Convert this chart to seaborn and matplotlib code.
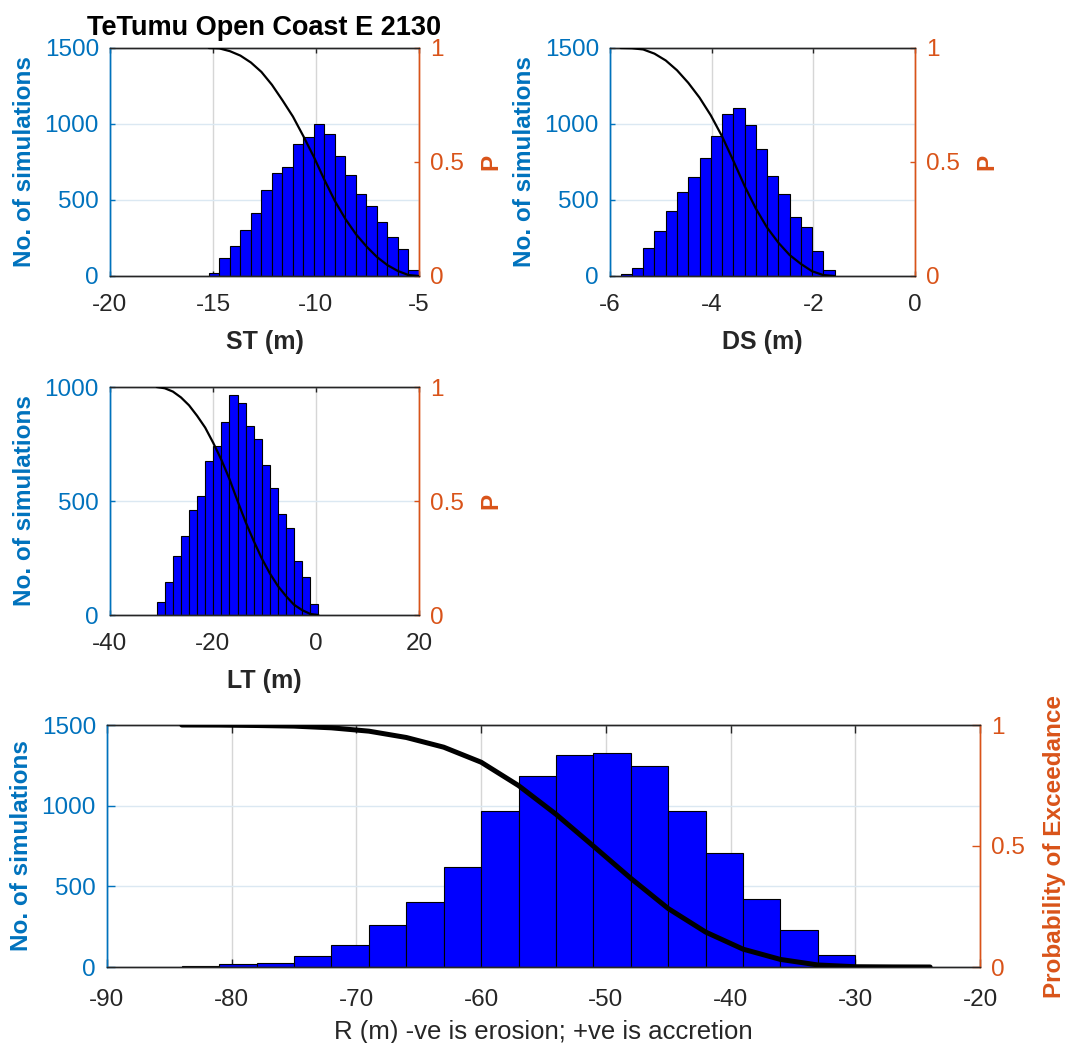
import numpy as np
import pandas as pd
import matplotlib
matplotlib.use("Agg")
import matplotlib.pyplot as plt
import seaborn as sns

sns.set_style("white")
plt.rcParams["font.family"] = ["Liberation Sans", "DejaVu Sans"]
plt.rcParams["axes.unicode_minus"] = False

# ---------------- data ----------------
title = "TeTumu Open Coast E 2130"

# ST histogram: first / last bin edge and counts per bin
st_range = (-15.2, -5.0)
st_counts = [18, 121, 195, 303, 413, 564, 679, 716, 867, 913,
             1001, 931, 788, 665, 538, 463, 358, 257, 176, 42]

# DS histogram
ds_range = (-5.79, -1.58)
ds_counts = [11, 53, 184, 299, 430, 551, 650, 777, 922, 1069,
             1107, 995, 837, 661, 542, 391, 323, 167, 40]

# LT histogram
lt_range = (-30.93, 0.45)
lt_counts = [56, 145, 257, 348, 462, 520, 674, 740, 846, 963,
             931, 830, 772, 659, 558, 443, 382, 235, 168, 47]

# R histogram (bin width 3 m)
r_range = (-84.0, -24.0)
r_counts = [4, 17, 25, 71, 137, 261, 400, 619, 964, 1181,
            1314, 1328, 1246, 970, 705, 424, 228, 73, 8, 3]

st_xticks = [-20, -15, -10, -5]
ds_xticks = [-6, -4, -2, 0]
lt_xticks = [-40, -20, 0, 20]
r_xticks = [-90, -80, -70, -60, -50, -40, -30, -20]
count_ticks_1500 = [0, 500, 1000, 1500]
count_ticks_1000 = [0, 500, 1000]
p_ticks = [0, 0.5, 1]
p_ticklabels = ["0", "0.5", "1"]

# ---------------- styling ----------------
BLUE = "#0072BD"
ORANGE = "#D95319"
DARK = "#262626"
BAR = "#0000FF"

W, H = 1067, 1043
fig = plt.figure(figsize=(W / 100, H / 100), dpi=100)


def rect(l, r, t, b):
    return [l / W, 1 - b / H, (r - l) / W, (b - t) / H]


def panel(pos, rng, counts, xticks, yticks, xlabel, ylabel_r,
          curve_lw, tick_len, xlabel_bold=True, ylpad_l=6, ylpad_r=11,
          xlpad=10, xtpad=13, xlsize=18):
    ax = fig.add_axes(pos)
    edges = np.linspace(rng[0], rng[1], len(counts) + 1)
    centers = (edges[:-1] + edges[1:]) / 2
    df = pd.DataFrame({"x": centers, "n": np.asarray(counts, float)})
    sns.histplot(data=df, x="x", weights="n", bins=list(edges), ax=ax,
                 color=BAR, edgecolor="black", linewidth=0.8, alpha=1.0,
                 zorder=2)
    ax.set_xlim(xticks[0], xticks[-1])
    ax.set_ylim(yticks[0], yticks[-1])
    ax.set_xticks(xticks)
    ax.set_yticks(yticks)
    ax.set_axisbelow(True)
    ax.grid(axis="x", color="#d6d6d6", linewidth=1.0)
    ax.grid(axis="y", color="#dbe8f2", linewidth=1.0)
    ax.tick_params(axis="x", direction="in", top=True, bottom=True,
                   length=tick_len, width=1.0, colors=DARK, labelsize=17.5,
                   pad=xtpad)
    ax.tick_params(axis="y", direction="in", left=True, right=False,
                   length=tick_len, width=1.0, colors=BLUE, labelsize=17.5, pad=8)
    ax.set_xlabel(xlabel, fontsize=xlsize, color=DARK,
                  fontweight="bold" if xlabel_bold else "normal", labelpad=xlpad)
    ax.set_ylabel("No. of simulations", fontsize=17.5, color=BLUE,
                  fontweight="bold", labelpad=ylpad_l)

    ax2 = ax.twinx()
    cnt = np.asarray(counts, float)
    exc = np.concatenate([cnt[::-1].cumsum()[::-1], [0.0]]) / cnt.sum()
    sns.lineplot(x=edges, y=exc, ax=ax2, color="black", linewidth=curve_lw,
                 zorder=3)
    ax2.set_ylim(0, 1)
    ax2.set_yticks(p_ticks)
    ax2.set_yticklabels(p_ticklabels)
    ax2.tick_params(axis="y", direction="in", right=True, left=False,
                    length=tick_len, width=1.0, colors=ORANGE, labelsize=17.5,
                    pad=8)
    ax2.set_ylabel(ylabel_r, fontsize=17.5, color=ORANGE, fontweight="bold",
                   labelpad=ylpad_r)
    for a in (ax, ax2):
        a.spines["left"].set_color(BLUE)
        a.spines["right"].set_color(ORANGE)
        a.spines["top"].set_color(DARK)
        a.spines["bottom"].set_color(DARK)
        for s in a.spines.values():
            s.set_linewidth(1.0)
    return ax, ax2


ax_st, _ = panel(rect(110, 419, 48, 276), st_range, st_counts, st_xticks,
                 count_ticks_1500, "ST (m)", "P", 1.6, 3.5)
panel(rect(610, 915, 48, 276), ds_range, ds_counts, ds_xticks,
      count_ticks_1500, "DS (m)", "P", 1.6, 3.5)
panel(rect(110, 419, 387, 615), lt_range, lt_counts, lt_xticks,
      count_ticks_1000, "LT (m)", "P", 1.6, 3.5)
panel(rect(107, 980, 725, 967), r_range, r_counts, r_xticks,
      count_ticks_1500, "R (m) -ve is erosion; +ve is accretion",
      "Probability of Exceedance", 3.6, 6, xlabel_bold=False, ylpad_r=13,
      xlpad=6, xtpad=16, xlsize=18.5)

fig.text((110 + 419) / 2 / W, 1 - 35 / H, title, fontsize=19.5,
         fontweight="bold", color="black", ha="center", va="baseline")

fig.savefig("out.png", dpi=100)
